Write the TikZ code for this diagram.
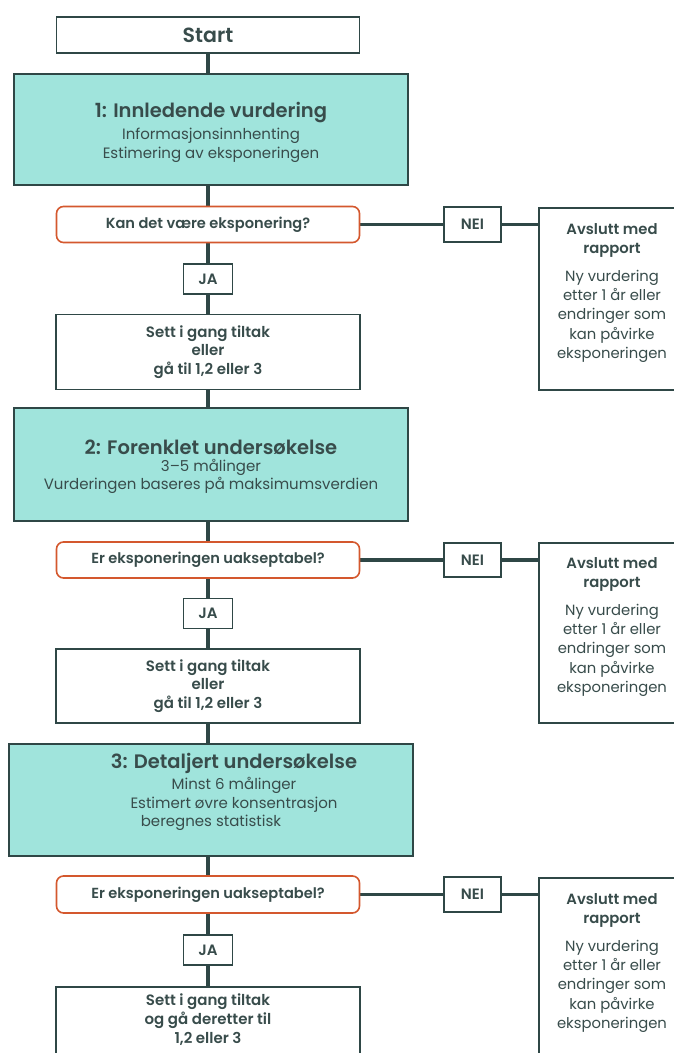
\documentclass[tikz,border=0pt]{standalone}
\usepackage{fontspec}
\setmainfont{Poppins}[BoldFont={Poppins SemiBold}]
\usetikzlibrary{backgrounds}
\definecolor{tealfill}{HTML}{A0E4DC}
\definecolor{dk}{HTML}{2F4746}
\definecolor{orng}{HTML}{D4582E}
\definecolor{tx}{HTML}{384C4B}
\begin{document}
\begin{tikzpicture}[x=1pt,y=-1pt,
  wbox/.style={draw=dk, line width=1.6pt, fill=white, inner sep=0pt, text=tx, align=center},
  tbox/.style={draw=dk, line width=2.6pt, fill=tealfill, inner sep=0pt, text=tx, align=center},
  qbox/.style={draw=orng, line width=1.6pt, fill=white, rounded corners=7pt, inner sep=0pt, text=tx,
    minimum width=303pt, minimum height=36pt, font=\fontsize{14.6}{18}\selectfont\bfseries},
  yn/.style={wbox, minimum width=49pt, minimum height=30pt, font=\fontsize{15}{18}\selectfont\bfseries},
  act/.style={wbox, minimum width=304pt, font=\fontsize{15}{18.5}\selectfont\bfseries},
  side/.style={wbox, minimum width=146pt},
  ttl/.style={font=\fontsize{19.5}{23}\selectfont\bfseries, text=tx, inner sep=0pt},
  sub/.style={font=\fontsize{15}{19}\selectfont, text=tx, inner sep=0pt, align=center},
  sidetxt/.style={text=tx, inner sep=0pt, align=center, font=\fontsize{14.8}{19.2}\selectfont},
  conn/.style={draw=dk, line width=3.8pt}
]
\useasboundingbox (0,0) rectangle (673,1053);

% ---------- stage 1 ----------
\node[wbox, minimum width=303pt, minimum height=36pt, font=\fontsize{20.5}{24}\selectfont\bfseries] (start) at (208,35) {Start};
\node[tbox, minimum width=394pt, minimum height=111pt] (t1) at (211,129.5) {};
\node[ttl] (t1a) at (211,113) {1: Innledende vurdering};
\node[sub] (t1b) at (211,145) {Informasjonsinnhenting\\Estimering av eksponeringen};
\node[qbox] (d1) at (208,224.5) {Kan det være eksponering?};
\node[yn] (ja1) at (208,279) {JA};
\node[act, minimum height=75pt] (a1) at (208,352) {Sett i gang tiltak\\eller\\gå til 1,2 eller 3};
\node[yn, minimum width=57pt, minimum height=35pt] (nei1) at (472.5,224.5) {NEI};
\node[side, minimum height=182pt] (r1) at (612,299) {};
\node[sidetxt, anchor=north] (r1t) at (612,223) {\bfseries Avslutt med\\\bfseries rapport\\[9pt]\mdseries Ny vurdering\\etter 1 år eller\\endringer som\\kan påvirke\\eksponeringen};

% ---------- stage 2 ----------
\node[tbox, minimum width=394pt, minimum height=113pt] (t2) at (211,464.5) {};
\node[ttl] (t2a) at (211,447) {2: Forenklet undersøkelse};
\node[sub, font=\fontsize{15}{18}\selectfont] (t2b) at (211,476) {3–5 målinger\\Vurderingen baseres på maksimumsverdien};
\node[qbox] (d2) at (208,560) {Er eksponeringen uakseptabel?};
\node[yn] (ja2) at (208,613.5) {JA};
\node[act, minimum height=74pt] (a2) at (208,686) {Sett i gang tiltak\\eller\\gå til 1,2 eller 3};
\node[yn, minimum width=57pt, minimum height=34pt] (nei2) at (472.5,560) {NEI};
\node[side, minimum height=180pt] (r2) at (612,633) {};
\node[sidetxt, anchor=north] (r2t) at (612,557) {\bfseries Avslutt med\\\bfseries rapport\\[9pt]\mdseries Ny vurdering\\etter 1 år eller\\endringer som\\kan påvirke\\eksponeringen};

% ---------- stage 3 ----------
\node[tbox, minimum width=404pt, minimum height=112pt] (t3) at (211,800) {};
\node[ttl] (t3a) at (234,763) {3: Detaljert undersøkelse};
\node[sub] (t3b) at (234,794.5) {Minst 6 målinger\\Estimert øvre konsentrasjon};
\node[sub] (t3c) at (211,823) {beregnes statistisk};
\node[qbox, minimum height=37pt] (d3) at (208,894.5) {Er eksponeringen uakseptabel?};
\node[yn] (ja3) at (208,950) {JA};
\node[act, minimum height=80pt, anchor=north] (a3) at (208,986) {};
\node[sub, font=\fontsize{15}{19}\selectfont\bfseries] (a3t) at (208,1020) {Sett i gang tiltak\\og gå deretter til\\1,2 eller 3};
\node[yn, minimum width=57pt, minimum height=35pt] (nei3) at (472.5,894.5) {NEI};
\node[side, minimum height=200pt, anchor=north] (r3) at (612,877) {};
\node[sidetxt, anchor=north] (r3t) at (612,893) {\bfseries Avslutt med\\\bfseries rapport\\[9pt]\mdseries Ny vurdering\\etter 1 år eller\\endringer som\\kan påvirke\\eksponeringen};

% ---------- connectors ----------
\begin{scope}[on background layer]
\draw[conn] (start.south) -- (start.south |- t1.north);
\draw[conn] (d1.north) -- (d1.north |- t1.south);
\draw[conn] (d1.south) -- (ja1.north);
\draw[conn] (ja1.south) -- (a1.north);
\draw[conn] (a1.south) -- (a1.south |- t2.north);
\draw[conn] (d2.north) -- (d2.north |- t2.south);
\draw[conn] (d2.south) -- (ja2.north);
\draw[conn] (ja2.south) -- (a2.north);
\draw[conn] (a2.south) -- (a2.south |- t3.north);
\draw[conn] (d3.north) -- (d3.north |- t3.south);
\draw[conn] (d3.south) -- (ja3.north);
\draw[conn] (ja3.south) -- (a3.north);
\draw[conn] (d1.east) -- (nei1.west);
\draw[conn] (nei1.east) -- (nei1.east -| r1.west);
\draw[conn] (d2.east) -- (nei2.west);
\draw[conn] (nei2.east) -- (nei2.east -| r2.west);
\draw[conn] (d3.east) -- (nei3.west);
\draw[conn] (nei3.east) -- (nei3.east -| r3.west);
\end{scope}
\end{tikzpicture}
\end{document}
